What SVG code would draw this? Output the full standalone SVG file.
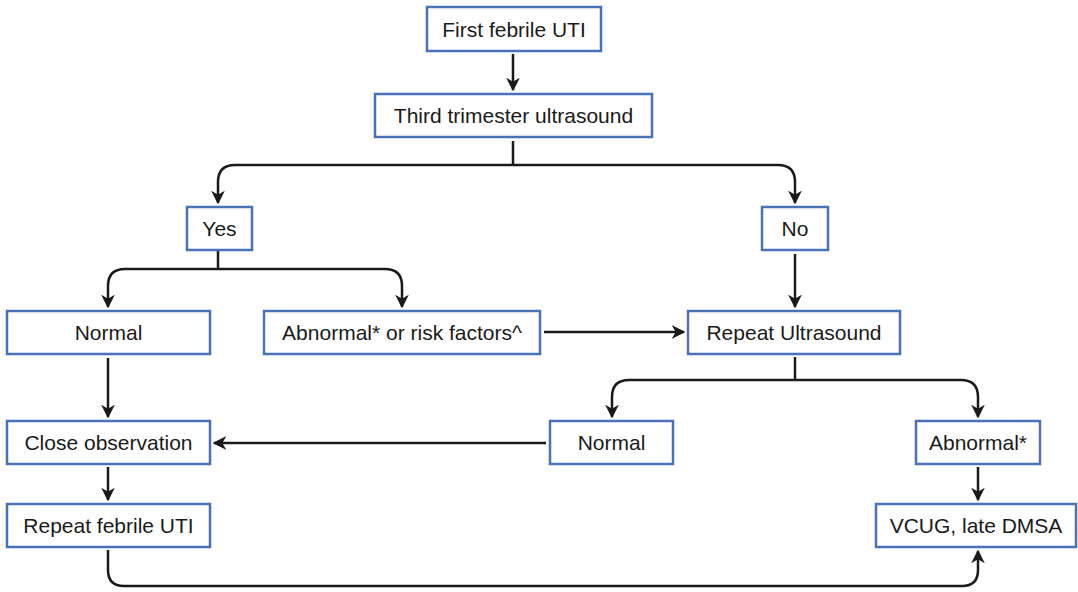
<svg xmlns="http://www.w3.org/2000/svg" width="1078" height="592" viewBox="0 0 1078 592">
  <style>
    .box rect { fill: #ffffff; stroke: #4a72b8; stroke-width: 2.5; }
    .box text { font-family: "Liberation Sans", Arial, sans-serif; font-size: 21px; fill: #1a1a1a; text-anchor: middle; dominant-baseline: central; }
    #connectors path { fill: none; stroke: #1a1a1a; stroke-width: 2.5; }
  </style>
  <defs>
    <marker id="arrow" viewBox="0 0 10 10" refX="9" refY="5" markerWidth="5.5" markerHeight="5.5" orient="auto" markerUnits="strokeWidth">
      <path d="M0,0 L10,5 L0,10 L3,5 Z" fill="#1a1a1a"/>
    </marker>
  </defs>
  <rect width="1078" height="592" fill="#ffffff"/>

  <g id="connectors">
    <path d="M513,54 V90" marker-end="url(#arrow)"/>
    <path d="M513,141 V165"/>
    <path d="M513,165 H235 Q218,165 218,182 V203" marker-end="url(#arrow)"/>
    <path d="M513,165 H778 Q795,165 795,182 V203" marker-end="url(#arrow)"/>
    <path d="M218,250 V269"/>
    <path d="M218,269 H125 Q108,269 108,286 V307" marker-end="url(#arrow)"/>
    <path d="M218,269 H385 Q402,269 402,286 V307" marker-end="url(#arrow)"/>
    <path d="M795,254 V307" marker-end="url(#arrow)"/>
    <path d="M544,332 H684" marker-end="url(#arrow)"/>
    <path d="M795,357 V380"/>
    <path d="M795,380 H629 Q612,380 612,397 V417" marker-end="url(#arrow)"/>
    <path d="M795,380 H961 Q978,380 978,397 V417" marker-end="url(#arrow)"/>
    <path d="M108,358 V417" marker-end="url(#arrow)"/>
    <path d="M546,443 H214" marker-end="url(#arrow)"/>
    <path d="M108,467 V500" marker-end="url(#arrow)"/>
    <path d="M978,467 V500" marker-end="url(#arrow)"/>
    <path d="M108,550 V570 Q108,586 124,586 H962 Q978,586 978,570 V551" marker-end="url(#arrow)"/>
  </g>

  <g id="first-uti" class="box"><rect x="427" y="7" width="174" height="44"/><text x="514" y="29">First febrile UTI</text></g>
  <g id="third-trimester" class="box"><rect x="375" y="94" width="277" height="43"/><text x="513.5" y="115.5">Third trimester ultrasound</text></g>
  <g id="yes" class="box"><rect x="187" y="207" width="65" height="43"/><text x="219.5" y="228">Yes</text></g>
  <g id="no" class="box"><rect x="762" y="207" width="66" height="43"/><text x="795" y="228">No</text></g>
  <g id="normal-left" class="box"><rect x="7" y="311" width="203" height="43"/><text x="108.5" y="332">Normal</text></g>
  <g id="abnormal-risk" class="box"><rect x="264" y="311" width="276" height="43"/><text x="402" y="332">Abnormal* or risk factors^</text></g>
  <g id="repeat-us" class="box"><rect x="688" y="311" width="212" height="43"/><text x="794" y="332">Repeat Ultrasound</text></g>
  <g id="normal-right" class="box"><rect x="550" y="421" width="123" height="43"/><text x="611.5" y="442">Normal</text></g>
  <g id="abnormal" class="box"><rect x="916" y="421" width="124" height="43"/><text x="978" y="442">Abnormal*</text></g>
  <g id="close-observation" class="box"><rect x="7" y="421" width="203" height="43"/><text x="108.5" y="442">Close observation</text></g>
  <g id="repeat-uti" class="box"><rect x="7" y="504" width="203" height="43"/><text x="108.5" y="525">Repeat febrile UTI</text></g>
  <g id="vcug" class="box"><rect x="876" y="504" width="200" height="43"/><text x="976" y="525">VCUG, late DMSA</text></g>
</svg>
